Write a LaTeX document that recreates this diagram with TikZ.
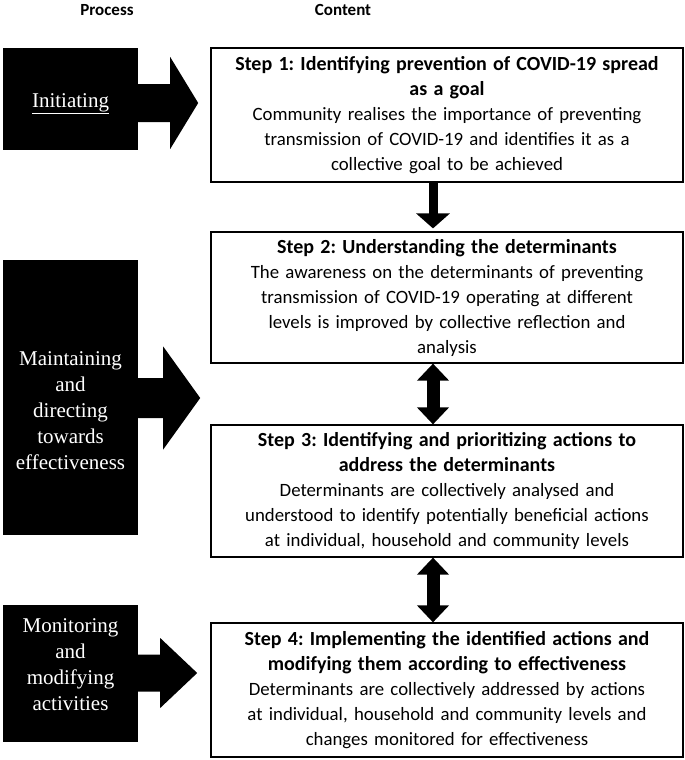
\documentclass[tikz,border=0pt]{standalone}
\usepackage{fontspec}
\setmainfont{Carlito}
\newfontfamily\procfont{Liberation Serif}
\usetikzlibrary{positioning, calc, arrows.meta}
\frenchspacing
\newcommand{\steptitle}[1]{{\fontsize{20}{25}\selectfont\bfseries #1}}

\begin{document}
\begin{tikzpicture}[x=1pt, y=-1pt,
    stepbox/.style={draw, line width=1.2pt, minimum width=472pt, text width=466pt,
        align=center, inner sep=0pt, font=\fontsize{18.8}{25}\selectfont},
    procbox/.style={fill=black, minimum width=135pt, inner sep=0pt},
    proctext/.style={text=white, text width=130pt, align=center, inner sep=0pt,
        font=\procfont\fontsize{21}{26}\selectfont},
    hdr/.style={font=\bfseries\fontsize{17}{20}\selectfont},
    blockarrow/.style={fill=black},
    downarrow/.style={line width=9pt, -{Triangle[width=33pt, length=15pt]}},
    twoarrow/.style={line width=13pt,
        {Triangle[width=31pt, length=17pt]}-{Triangle[width=31pt, length=17pt]}},
]
    \useasboundingbox (0,0) rectangle (685,760);

    % column headers
    \node[hdr] (hproc) at (107,10) {Process};
    \node[hdr] (hcont) at (343,10) {Content};

    % content steps
    \node[stepbox, minimum height=134pt] (step1) at (447,115) {%
        \steptitle{Step 1: Identifying prevention of COVID-19 spread}\\
        \steptitle{as a goal}\\
        Community realises the importance of preventing\\
        transmission of COVID-19 and identifies it as a\\
        collective goal to be achieved};
    \node[stepbox, minimum height=131pt] (step2) at (447,297.5) {%
        \steptitle{Step 2: Understanding the determinants}\\
        The awareness on the determinants of preventing\\
        transmission of COVID-19 operating at different\\
        levels is improved by collective reflection and\\
        analysis};
    \node[stepbox, minimum height=132pt] (step3) at (447,491) {%
        \steptitle{Step 3: Identifying and prioritizing actions to}\\
        \steptitle{address the determinants}\\
        Determinants are collectively analysed and\\
        understood to identify potentially beneficial actions\\
        at individual, household and community levels};
    \node[stepbox, minimum height=134pt] (step4) at (447,690) {%
        \steptitle{Step 4: Implementing the identified actions and}\\
        \steptitle{modifying them according to effectiveness}\\
        Determinants are collectively addressed by actions\\
        at individual, household and community levels and\\
        changes monitored for effectiveness};

    % process boxes
    \node[procbox, minimum height=102pt,
        label={[proctext, yshift=-5pt]center:\underline{Initiating}}] (procA) at (70.5,99) {};
    \node[procbox, minimum height=275pt,
        label={[proctext, yshift=-13pt]center:Maintaining\\ and\\ directing\\ towards\\ effectiveness}]
        (procB) at (70.5,397.5) {};
    \node[procbox, minimum height=137pt,
        label={[proctext, yshift=9pt]center:Monitoring\\ and\\ modifying\\ activities}]
        (procC) at (70.5,673.5) {};

    % block arrows from process to content
    \fill[blockarrow] ($(procA.east)+(-1,4)$) -- ++(0,-19) -- ++(33,0) -- ++(0,-27)
        -- ++(28,46) -- ++(-28,46) -- ++(0,-27) -- ++(-33,0) -- cycle;
    \fill[blockarrow] ($(procB.east)+(-1,0.5)$) -- ++(0,-20) -- ++(26,0) -- ++(0,-31.5)
        -- ++(37,51.5) -- ++(-37,51.5) -- ++(0,-31.5) -- ++(-26,0) -- cycle;
    \fill[blockarrow] ($(procC.east)+(-1,-0.5)$) -- ++(0,-18.5) -- ++(23,0) -- ++(0,-16.5)
        -- ++(37,35) -- ++(-37,35) -- ++(0,-16.5) -- ++(-23,0) -- cycle;

    % arrows between steps
    \draw[downarrow, shorten >=3pt] ([xshift=-14pt]step1.south) -- ([xshift=-14pt]step2.north);
    \draw[twoarrow] ([xshift=-14pt]step2.south) -- ([xshift=-14pt]step3.north);
    \draw[twoarrow] ([xshift=-14pt]step3.south) -- ([xshift=-14pt]step4.north);
\end{tikzpicture}
\end{document}
